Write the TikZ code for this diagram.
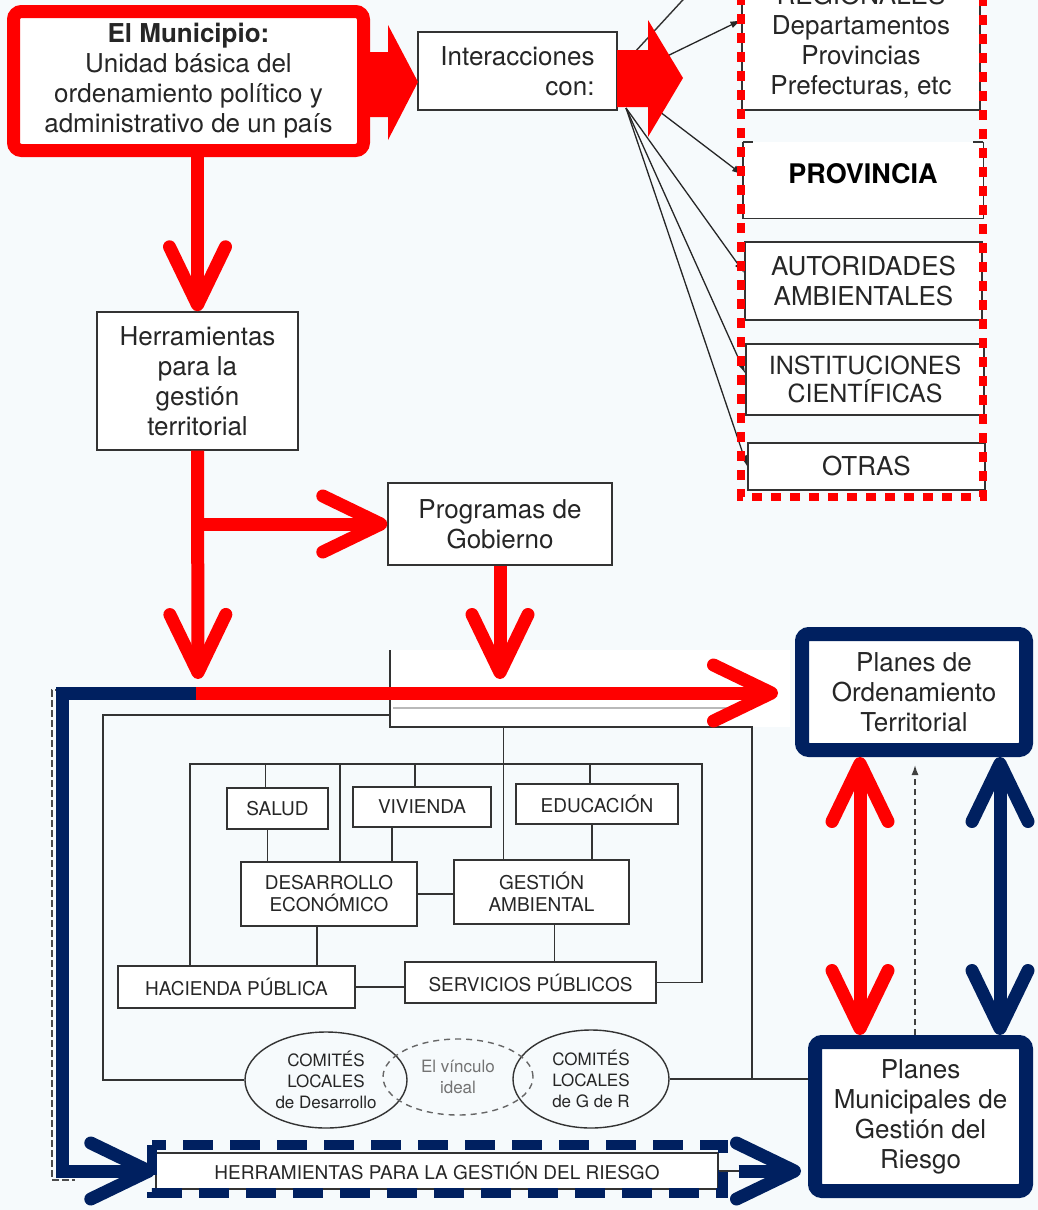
\documentclass[tikz,border=0pt]{standalone}
\usepackage{fontspec}
\setmainfont{TeX Gyre Heros}
\usetikzlibrary{arrows.meta,shapes.geometric}
\definecolor{navyb}{RGB}{0,32,96}
\definecolor{bgc}{RGB}{246,250,252}
\newcommand\fntbig{\fontsize{26}{30}\selectfont}
\newcommand\fntsec{\fontsize{19}{22}\selectfont}
\newcommand\fntell{\fontsize{17}{21}\selectfont}
\tikzset{
 thinl/.style={draw=black!80, line width=1.4pt},
 tbox/.style={draw=black!80, line width=1.4pt, fill=white, inner sep=0pt, align=center, font=\fntbig, text=black!85},
 secbox/.style={tbox, font=\fntsec},
 ell/.style={draw=black!80, line width=1.4pt, ellipse, inner sep=0pt, align=center, font=\fntell, text=black!85},
 barb/.tip={Straight Barb[length=58pt,width=56pt,round]},
 redarr/.style={draw=red, line width=13pt, -barb},
 redbi/.style={draw=red, line width=13pt, barb-barb},
 navyarr/.style={draw=navyb, line width=13pt, -barb},
 navybi/.style={draw=navyb, line width=13pt, barb-barb},
 bigred/.style={draw=red, line width=13pt, fill=white, rounded corners=8pt, inner sep=0pt, align=center, font=\fntbig, text=black!85},
 bignavy/.style={draw=navyb, line width=14pt, fill=white, rounded corners=7pt, inner sep=0pt, align=center, font=\fntbig, text=black!85},
 fan/.style={draw=black!85, line width=1.3pt, -{Latex[length=11pt,width=7pt]}},
 fatarrow/.style={fill=red},
}
\begin{document}
\begin{tikzpicture}[x=1pt,y=-1pt]
\useasboundingbox (0,0) rectangle (1038,1210);
\clip (0,0) rectangle (1038,1210);
\fill[bgc] (0,0) rectangle (1038,1210);

% ---------- white cover area ----------
\coordinate (cvTL) at (390,650);
\coordinate (cvBL) at (390,727);
\coordinate (cvBR) at (790,727);
\coordinate (rt) at (752,727);
\fill[white] (cvTL) rectangle (cvBR);
\draw[gray!55, line width=1.5pt] (393,708) -- (740,708);

% ---------- sector boxes ----------
\node[secbox, minimum width=101pt, minimum height=41pt] (sal) at (277.5,808.5) {SALUD};
\node[secbox, minimum width=138pt, minimum height=40pt] (viv) at (422,807) {VIVIENDA};
\node[secbox, minimum width=162pt, minimum height=40pt] (edu) at (597,804) {EDUCACIÓN};
\node[secbox, minimum width=176pt, minimum height=64pt] (des) at (329,894) {DESARROLLO\\ECONÓMICO};
\node[secbox, minimum width=175pt, minimum height=64pt] (ges) at (541.5,892) {GESTIÓN\\AMBIENTAL};
\node[secbox, minimum width=237pt, minimum height=42pt] (hac) at (236.5,987) {HACIENDA PÚBLICA};
\node[secbox, minimum width=251pt, minimum height=41pt] (serv) at (530.5,982.5) {SERVICIOS PÚBLICOS};

% ---------- ellipses ----------
\node[ell, minimum width=162pt, minimum height=96pt] (cld) at (326,1080) {COMITÉS\\LOCALES\\de Desarrollo};
\node[ell, minimum width=156pt, minimum height=98pt] (cgr) at (591,1079) {COMITÉS\\LOCALES\\de G de R};
\node[ell, draw=black!60, dash pattern=on 6pt off 5pt, text=black!55, minimum width=150pt, minimum height=76pt] (vin) at (458,1077) {El vínculo\\ideal};

% ---------- big navy boxes ----------
\node[bignavy, minimum width=224pt, minimum height=116pt] (pot) at (914,692) {Planes de\\Ordenamiento\\Territorial};
\node[bignavy, minimum width=211pt, minimum height=149pt] (pmgr) at (920.5,1116.5) {Planes\\Municipales de\\Gestión del\\Riesgo};

% ---------- thin frames ----------
\coordinate (oTR) at (390,715);
\coordinate (oTL) at (103,715);
\coordinate (iTL) at (190,764);
\coordinate (iTR) at (702,764);
\draw[thinl] (cvTL) -- (cvBL) -- (rt) -- (rt |- cgr.east);
\draw[thinl] (oTR) -- (oTL) -- (oTL |- cld.west) -- (cld.west);
\draw[thinl] (hac.north -| iTL) -- (iTL) -- (iTR) |- (serv.east);
\draw[thinl] ([xshift=-12pt]sal.north) -- ([xshift=-12pt]sal.north |- iTL);
\draw[thinl] ([xshift=-7pt]viv.north) -- ([xshift=-7pt]viv.north |- iTL);
\draw[thinl] ([xshift=-7pt]edu.north) -- ([xshift=-7pt]edu.north |- iTL);
\draw[thinl] ([xshift=11pt]des.north) -- ([xshift=11pt]des.north |- iTL);
\draw[thinl] ([xshift=-38pt]ges.north) -- ([xshift=-38pt]ges.north |- cvBL);
\draw[thinl] ([xshift=-10pt]sal.south) -- ([xshift=-10pt]sal.south |- des.north);
\draw[thinl] ([xshift=-30pt]viv.south) -- ([xshift=-30pt]viv.south |- des.north);
\draw[thinl] ([xshift=-5pt]edu.south) -- ([xshift=-5pt]edu.south |- ges.north);
\draw[thinl] (des.east) -- (des.east -| ges.west);
\draw[thinl] ([xshift=-12pt]des.south) -- ([xshift=-12pt]des.south |- hac.north);
\draw[thinl] ([xshift=13pt]ges.south) -- ([xshift=13pt]ges.south |- serv.north);
\draw[thinl] (hac.east) -- (hac.east -| serv.west);
\draw[thinl] (cgr.east) -- (cgr.east -| pmgr.west);

% ---------- upper boxes ----------
\node[bigred, minimum width=350pt, minimum height=139pt] (muni) at (188.5,81) {\textbf{El Municipio:}\\Unidad básica del\\ordenamiento político y\\administrativo de un país};
\node[tbox, align=right, minimum width=199pt, minimum height=78pt] (inter) at (517.5,71) {Interacciones\\con:};
\node[tbox, minimum width=201pt, minimum height=138pt] (herr) at (197.5,381) {Herramientas\\para la\\gestión\\territorial};
\node[tbox, minimum width=224pt, minimum height=82pt] (prog) at (500,524) {Programas de\\Gobierno};

% ---------- right column boxes ----------
\node[tbox, minimum width=238pt, minimum height=136pt] (reg) at (861,42) {REGIONALES\\Departamentos\\Provincias\\Prefecturas, etc};
\node[fill=white, inner sep=0pt, minimum width=240pt, minimum height=76pt, text depth=14pt, font=\fontsize{27}{30}\selectfont\bfseries] (prov) at (863,180) {PROVINCIA};
\draw[thinl] (prov.north west) -- (prov.south west) -- (prov.south east) -- (prov.north east);
\draw[thinl] (prov.north west) -- ++(10,0);
\draw[thinl] (prov.north east) -- ++(-10,0);
\node[tbox, minimum width=237pt, minimum height=78pt] (aut) at (863.5,281) {AUTORIDADES\\AMBIENTALES};
\node[tbox, font=\fontsize{25}{28}\selectfont, minimum width=238pt, minimum height=71pt] (ins) at (865,379.5) {INSTITUCIONES\\CIENTÍFICAS};
\node[tbox, minimum width=237pt, minimum height=47pt] (otr) at (866.5,466.5) {OTRAS};

% ---------- fan of thin arrows ----------
\coordinate (f1) at (622,66);
\coordinate (f2) at (622,78);
\coordinate (f3) at (622,83);
\coordinate (f4) at (626,108);
\coordinate (top) at (692,-10);
\draw[thinl] (f1) -- (top);
\draw[fan] (f2) -- ([yshift=22pt]reg.west);
\draw[fan] (f3) -- ([yshift=5pt]prov.west);
\draw[fan] (f4) -- ([yshift=8pt]aut.west);
\draw[fan] (f4) -- ([yshift=6pt]ins.west);
\draw[fan] (f4) -- (otr.west);

% ---------- fat red arrows ----------
\fill[fatarrow] (370,52) -- (388,52) -- (388,25) -- (418,82) -- (388,140) -- (388,117) -- (370,117) -- cycle;
\fill[fatarrow] (617,50) -- (648,50) -- (648,20) -- (683,78) -- (648,137) -- (648,107) -- (617,107) -- cycle;

% ---------- red dotted frame ----------
\draw[red, line width=8pt, dash pattern=on 10pt off 9pt] (741,-5) -- (741,497) -- (983,497) -- (983,-5);

% ---------- left dashed thin line ----------
\draw[black!70, line width=1.3pt, dash pattern=on 7pt off 3pt] (62,690) -- (52,690) -- (52,1180) -- (75,1180);

% ---------- risk tools box ----------
\node[secbox, minimum width=562pt, minimum height=36pt] (riesgo) at (437,1171) {HERRAMIENTAS PARA LA GESTIÓN DEL RIESGO};
\draw[navyb, line width=10pt, dash pattern=on 30pt off 17pt] ([shift={(-3,-7)}]riesgo.north west) rectangle ([shift={(4,3)}]riesgo.south east);

% ---------- navy path ----------
\coordinate (jL) at (196,693);
\coordinate (nTL) at (62,693);
\draw[navyarr] (jL) -- (nTL) -- (nTL |- riesgo.west) -- (riesgo.west);
\draw[thinl] (riesgo.east) -- ++(20,0);
\draw[navyarr, shorten >=7pt] ([xshift=20pt]riesgo.east) -- (riesgo.east -| pmgr.west);

% ---------- red arrows ----------
\coordinate (tipA) at (198,679);
\coordinate (tipB) at (500,679);
\draw[redarr] (muni.south -| herr.north) -- (herr.north);
\draw[redarr] (herr.south) -- (tipA);
\draw[redarr] (herr.south |- prog.west) -- (prog.west);
\draw[redarr] (prog.south) -- (tipB);
\draw[redarr, shorten >=17pt] (jL) -- (jL -| pot.west);

% ---------- arrows between plans ----------
\draw[redbi] ([xshift=-54pt]pot.south) -- ([xshift=-54pt]pot.south |- pmgr.north);
\draw[navybi] ([xshift=86pt]pot.south) -- ([xshift=86pt]pot.south |- pmgr.north);
\draw[black!75, line width=1.4pt, dash pattern=on 6pt off 4pt, -{Latex[length=10pt,width=7pt]}, shorten >=8pt] ([xshift=1pt]pot.south |- pmgr.north) -- ([xshift=1pt]pot.south);
\end{tikzpicture}
\end{document}
